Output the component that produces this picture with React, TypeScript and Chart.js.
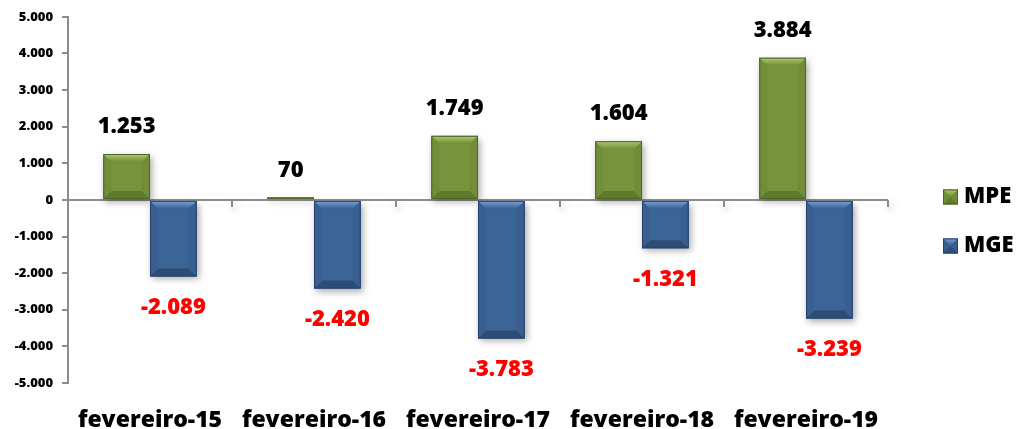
import React, { useEffect, useRef } from "react";
import { Chart, registerables } from "chart.js";
Chart.register(...registerables);

const categories = ["fevereiro-15", "fevereiro-16", "fevereiro-17", "fevereiro-18", "fevereiro-19"];
const mpeValues = [1253, 70, 1749, 1604, 3884];
const mgeValues = [-2089, -2420, -3783, -1321, -3239];
const seriesNames = ["MPE", "MGE"];
const yMin = -5000;
const yMax = 5000;
const yStep = 1000;

const FONT = "'Open Sans', 'Liberation Sans', sans-serif";
const WEIGHT = "800";

const palettes = [
  { face: "#77933C", top: "#AFCB6E", bottom: "#5F7A2C", side: "#718D38", border: "#4F6228" },
  { face: "#3B6497", top: "#76A3DC", bottom: "#2D4D76", side: "#385F90", border: "#25436A" },
];

function fmt(v: number): string {
  const s = Math.abs(Math.round(v)).toString().replace(/\B(?=(\d{3})+(?!\d))/g, ".");
  return (v < 0 ? "-" : "") + s;
}

function drawBevel(ctx: CanvasRenderingContext2D, l: number, t: number, r: number, b: number, p: any) {
  const w = r - l;
  const h = b - t;
  const s = Math.max(0, Math.min(8, w / 2, h / 2));
  ctx.save();
  ctx.shadowColor = "transparent";
  const g = ctx.createLinearGradient(0, t, 0, t + s);
  g.addColorStop(0, p.top);
  g.addColorStop(1, p.side);
  ctx.fillStyle = g;
  ctx.beginPath();
  ctx.moveTo(l, t); ctx.lineTo(r, t); ctx.lineTo(r - s, t + s); ctx.lineTo(l + s, t + s); ctx.closePath();
  ctx.fill();
  ctx.fillStyle = p.bottom;
  ctx.beginPath();
  ctx.moveTo(l, b); ctx.lineTo(r, b); ctx.lineTo(r - s, b - s); ctx.lineTo(l + s, b - s); ctx.closePath();
  ctx.fill();
  ctx.fillStyle = p.side;
  ctx.beginPath();
  ctx.moveTo(l, t); ctx.lineTo(l + s, t + s); ctx.lineTo(l + s, b - s); ctx.lineTo(l, b); ctx.closePath();
  ctx.fill();
  ctx.beginPath();
  ctx.moveTo(r, t); ctx.lineTo(r - s, t + s); ctx.lineTo(r - s, b - s); ctx.lineTo(r, b); ctx.closePath();
  ctx.fill();
  ctx.strokeStyle = p.border;
  ctx.lineWidth = 1;
  ctx.strokeRect(l + 0.5, t + 0.5, Math.max(0, w - 1), Math.max(0, h - 1));
  ctx.restore();
}

const bevelPlugin = {
  id: "bevel",
  beforeDatasetsDraw(chart: any) {
    const ctx = chart.ctx;
    ctx.save();
    ctx.shadowColor = "rgba(0,0,0,0.35)";
    ctx.shadowBlur = 7;
    ctx.shadowOffsetX = 2;
    ctx.shadowOffsetY = 3;
  },
  afterDatasetsDraw(chart: any) {
    const ctx = chart.ctx;
    ctx.restore();
    chart.data.datasets.forEach((ds: any, di: number) => {
      const meta = chart.getDatasetMeta(di);
      meta.data.forEach((el: any) => {
        const p = el.getProps(["x", "y", "base", "width"], true);
        const l = p.x - p.width / 2;
        const r = p.x + p.width / 2;
        const t = Math.min(p.y, p.base);
        const b = Math.max(p.y, p.base);
        drawBevel(ctx, l, t, r, b, palettes[di]);
      });
    });
  },
};

const labelPlugin = {
  id: "valueLabels",
  afterDatasetsDraw(chart: any) {
    const ctx = chart.ctx;
    ctx.save();
    ctx.font = `${WEIGHT} 22px ${FONT}`;
    ctx.textAlign = "center";
    ctx.textBaseline = "middle";
    chart.data.datasets.forEach((ds: any, di: number) => {
      const meta = chart.getDatasetMeta(di);
      meta.data.forEach((el: any, i: number) => {
        const v = ds.data[i];
        const p = el.getProps(["x", "y", "base"], true);
        if (v >= 0) {
          ctx.fillStyle = "#000000";
          ctx.fillText(fmt(v), p.x, p.y - 27);
        } else {
          ctx.fillStyle = "#FF0000";
          ctx.fillText(fmt(v), p.x, p.y + 31);
        }
      });
    });
    ctx.restore();
  },
};

const axisPlugin = {
  id: "zeroAxisTicks",
  afterDatasetsDraw(chart: any) {
    const ctx = chart.ctx;
    const xs = chart.scales.x;
    const ys = chart.scales.y;
    const y0 = ys.getPixelForValue(0);
    const n = categories.length;
    const step = (xs.right - xs.left) / n;
    ctx.save();
    ctx.strokeStyle = "#8C8C8C";
    ctx.lineWidth = 2;
    for (let i = 1; i <= n; i++) {
      const x = Math.round(xs.left + step * i);
      ctx.beginPath();
      ctx.moveTo(x, y0);
      ctx.lineTo(x, y0 + 7);
      ctx.stroke();
    }
    ctx.restore();
  },
};

const legendPlugin = {
  id: "customLegend",
  afterDraw(chart: any) {
    const ctx = chart.ctx;
    const ys = chart.scales.y;
    const centers = [ys.getPixelForValue(0) - 3, ys.getPixelForValue(0) + 46];
    ctx.save();
    seriesNames.forEach((name, i) => {
      const cy = centers[i];
      const x0 = 943;
      const sz = 15;
      ctx.fillStyle = palettes[i].face;
      ctx.fillRect(x0, cy - sz / 2, sz, sz);
      drawBevel(ctx, x0, cy - sz / 2, x0 + sz, cy + sz / 2, palettes[i]);
      ctx.fillStyle = "#000000";
      ctx.font = `${WEIGHT} 22px ${FONT}`;
      ctx.textAlign = "left";
      ctx.textBaseline = "middle";
      ctx.fillText(name, x0 + 21, cy);
    });
    ctx.restore();
  },
};

export default function App() {
  const ref = useRef<HTMLCanvasElement | null>(null);
  useEffect(() => {
    if (!ref.current) return;
    const chart = new Chart(ref.current, {
      type: "bar",
      data: {
        labels: categories,
        datasets: [
          { label: seriesNames[0], data: mpeValues, backgroundColor: palettes[0].face, barPercentage: 1, categoryPercentage: 0.57 },
          { label: seriesNames[1], data: mgeValues, backgroundColor: palettes[1].face, barPercentage: 1, categoryPercentage: 0.57 },
        ],
      },
      options: {
        animation: false,
        responsive: false,
        maintainAspectRatio: false,
        layout: { padding: { left: 0, right: 130, top: 16, bottom: 0 } },
        plugins: { legend: { display: false }, tooltip: { enabled: false } },
        scales: {
          x: {
            grid: { display: false },
            border: { display: false },
            ticks: { color: "#000", font: { family: FONT, size: 23, weight: WEIGHT }, padding: 16 },
            afterFit: (s: any) => { s.height = 46; },
          },
          y: {
            min: yMin,
            max: yMax,
            ticks: {
              stepSize: yStep,
              color: "#000",
              font: { family: FONT, size: 13, weight: WEIGHT },
              padding: 9,
              callback: (v: any) => fmt(Number(v)),
            },
            grid: {
              color: (c: any) => (c.tick && c.tick.value === 0 ? "#8C8C8C" : "rgba(0,0,0,0)"),
              tickColor: "#8C8C8C",
              tickLength: 6,
              lineWidth: 2,
            },
            border: { color: "#8C8C8C", width: 2 },
            afterFit: (s: any) => { s.width = 68; },
          },
        },
      },
      plugins: [axisPlugin, bevelPlugin, labelPlugin, legendPlugin],
    } as any);
    return () => chart.destroy();
  }, []);
  return (
    <div style={{ position: "fixed", left: 0, top: 0, width: 1018, height: 429, background: "#fff" }}>
      <canvas ref={ref} width={1018} height={429} style={{ display: "block" }} />
    </div>
  );
}
